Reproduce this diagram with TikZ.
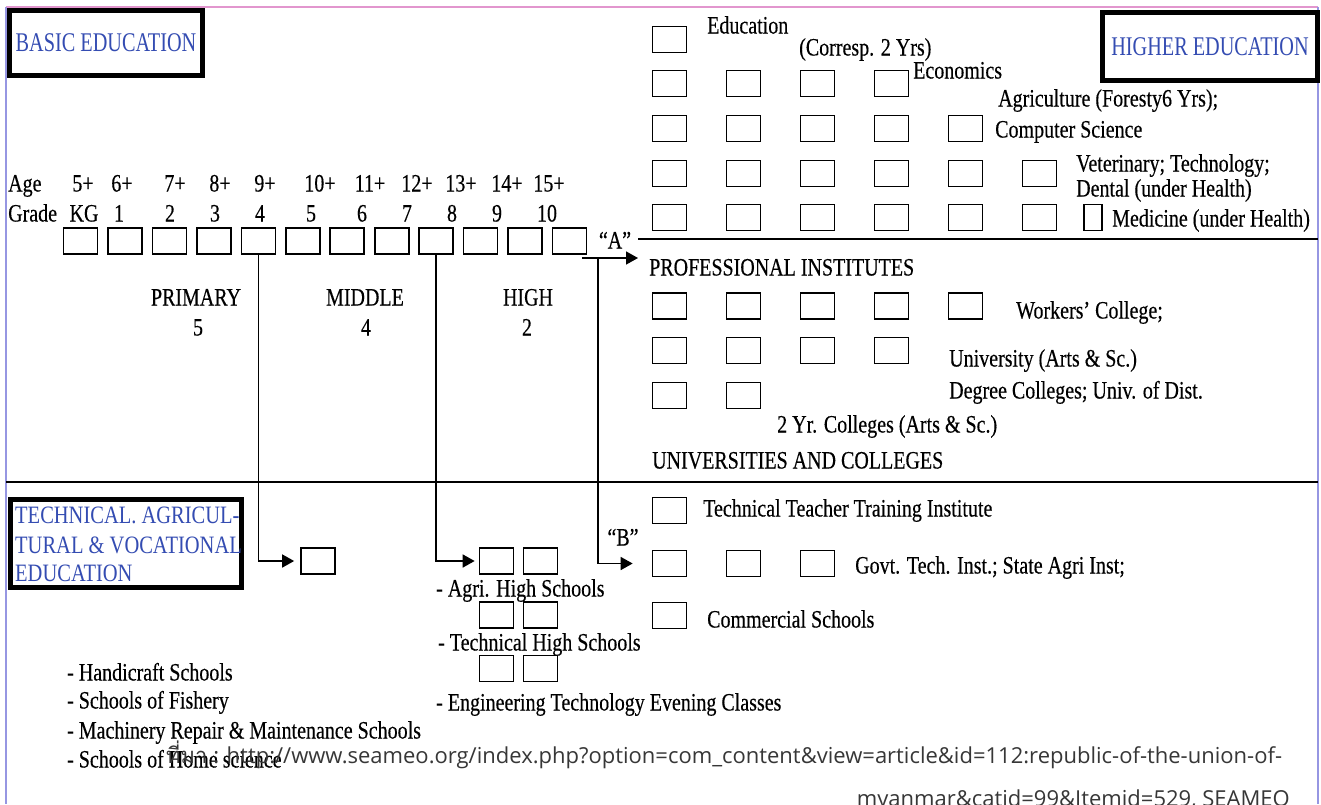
\documentclass[tikz,border=0pt]{standalone}
\usepackage{fontspec}
\setmainfont{Liberation Serif}
\newfontfamily\chartfont[FakeStretch=0.8, FakeBold=0.3]{Liberation Serif}
\newfontfamily\titlefont[FakeStretch=0.75]{Liberation Serif}
\newfontfamily\thaifont[Script=Thai]{Loma}
\newfontfamily\srcfont{Open Sans}
\usetikzlibrary{arrows.meta,positioning}
\definecolor{titleblue}{RGB}{52,76,178}
\definecolor{framepink}{RGB}{226,150,206}
\definecolor{frameblue}{RGB}{150,150,226}
\definecolor{srcgray}{RGB}{55,55,55}

\begin{document}
\begin{tikzpicture}[x=1pt, y=-1pt,
    lbl/.style={inner sep=0pt, anchor=west, text height=17pt, text depth=0pt, font=\chartfont\fontsize{25}{29}\selectfont},
    mid/.style={lbl, anchor=center},
    cell/.style={draw, line width=1.7pt, minimum width=34pt, minimum height=26pt, inner sep=0pt},
    slim/.style={cell, minimum width=18pt},
    titlebox/.style={draw, line width=5pt, inner sep=0pt, text=titleblue, font=\titlefont\fontsize{27}{29}\selectfont},
    techtxt/.style={lbl, text=titleblue, font=\titlefont\fontsize{25}{29}\selectfont},
    flow/.style={line width=1.6pt, -{Triangle[length=12pt, width=13pt]}},
    rule/.style={line width=1.8pt},
    src/.style={inner sep=0pt, text=srcgray, font=\srcfont\fontsize{22}{26}\selectfont}]

    \clip (0,0) rectangle (1321,804);
    \fill[white] (0,0) rectangle (1321,804);

    % frame
    \draw[framepink, line width=1.5pt] (6,7) -- (1318,7);
    \draw[frameblue, line width=1.5pt] (6,7) -- (6,804);
    \draw[frameblue, line width=1.5pt] (1318,7) -- (1318,804);

    % section titles
    \node (basic) [titlebox, minimum width=193pt, minimum height=65pt] at (106,43) {BASIC EDUCATION};
    \node (higher) [titlebox, minimum width=215pt, minimum height=68pt] at (1210,46.5) {HIGHER EDUCATION};
    \node (tech) [titlebox, minimum width=231pt, minimum height=88pt] at (126,543.5) {};
    \node (tech1) [techtxt] at (15,515) {\addfontfeature{FakeStretch=0.82}TECHNICAL. AGRICUL-};
    \node (tech2) [techtxt] at (15,545) {\addfontfeature{FakeStretch=0.82}TURAL \& VOCATIONAL};
    \node (tech3) [techtxt] at (15,573) {\addfontfeature{FakeStretch=0.82}EDUCATION};

    % basic education: ages, grades, boxes
    \node (age) [lbl] at (8,183) {Age};
    \node (grade) [lbl] at (8,213) {Grade};
    \foreach \a/\x [count=\k] in {5+/83, 6+/122, 7+/175, 8+/220, 9+/265, 10+/320, 11+/370, 12+/417, 13+/461, 14+/507, 15+/549}
        \node (age\k) [mid] at (\x,183) {\a};
    \foreach \g/\x [count=\k] in {KG/84, 1/119, 2/170, 3/215, 4/260, 5/311, 6/362, 7/407, 8/452, 9/497, 10/547}
        \node (gr\k) [mid] at (\x,213) {\g};
    \foreach \i in {1,...,12}
        \node (g\i) [cell] at ({36.1+44.45*\i},241) {};

    \node (primary) [mid] at (196,297) {PRIMARY};
    \node (primaryn) [mid] at (198,327) {5};
    \node (middle) [mid] at (365,297) {MIDDLE};
    \node (middlen) [mid] at (366,327) {4};
    \node (high) [mid] at (528,297) {HIGH};
    \node (highn) [mid] at (527,327) {2};

    % higher education boxes
    \foreach \r/\y/\n in {r1/39.5/1, r2/83.5/4, r3/128.5/5, r4/173.5/6, r5/217.5/6, p1/306/5, p2/350.5/4, p3/395.5/2, t1/510.5/1, t2/563.5/3, t3/615.5/1}
        \foreach \j in {1,...,\n}
            \node (\r c\j) [cell] at ({595.5+74*\j},\y) {};
    \node (r5s) [slim] at (1093,217.5) {};

    \node (edu) [lbl] at (707,25) {Education};
    \node (corresp) [lbl] at (799,47) {(Corresp. 2 Yrs)};
    \node (econ) [lbl] at (913,70) {Economics};
    \node (agri) [lbl] at (998,98) {Agriculture (Foresty6 Yrs);};
    \node (comp) [lbl] at (995,129) {Computer Science};
    \node (vet) [lbl] at (1076,163) {Veterinary; Technology;};
    \node (dental) [lbl] at (1076,188) {Dental (under Health)};
    \node (med) [lbl] at (1112,218) {Medicine (under Health)};

    \node (prof) [lbl] at (649,267) {PROFESSIONAL INSTITUTES};
    \node (workers) [lbl] at (1016,310) {Workers’ College;};
    \node (univ) [lbl] at (949,358) {University (Arts \& Sc.)};
    \node (degree) [lbl] at (949,390) {Degree Colleges; Univ. of Dist.};
    \node (twoyr) [lbl] at (777,424) {2 Yr. Colleges (Arts \& Sc.)};
    \node (unis) [lbl] at (652,460) {UNIVERSITIES AND COLLEGES};

    \node (ttti) [lbl] at (703,508) {Technical Teacher Training Institute};
    \node (govt) [lbl] at (855,565) {Govt. Tech. Inst.; State Agri Inst;};
    \node (comm) [lbl] at (707,619) {Commercial Schools};

    % technical / vocational boxes
    \node (tv) [cell] at (318,561) {};
    \node (ta1) [cell] at (496.5,561) {};
    \node (ta2) [cell] at (540.5,561) {};
    \node (tt1) [cell] at (496.5,615) {};
    \node (tt2) [cell] at (540.5,615) {};
    \node (te1) [cell] at (496.5,668.5) {};
    \node (te2) [cell] at (540.5,668.5) {};
    \node (agrihs) [lbl] at (436,588) {- Agri. High Schools};
    \node (techhs) [lbl] at (438,642) {- Technical High Schools};
    \node (engtech) [lbl] at (436,702) {- Engineering Technology Evening Classes};

    \node (handi) [lbl] at (67,672) {- Handicraft Schools};
    \node (fish) [lbl] at (67,700) {- Schools of Fishery};
    \node (mach) [lbl] at (67,730) {- Machinery Repair \& Maintenance Schools};
    \node (home) [lbl] at (67,759) {- Schools of Home science};

    % separators
    \draw[rule] (638,239) -- (1318,239);
    \draw[rule] (6,482) -- (1318,482);

    % connectors
    \coordinate (astart) at (582,258);
    \coordinate (atip) at (638,258);
    \coordinate (ajoin) at (598,258);
    \node (alabel) [mid] at (615,240) {“A”};
    \node (blabel) [mid] at (623,537) {“B”};
    \draw[flow] (astart) -- (atip);
    \draw[flow, shorten >=19pt] (ajoin) |- (t2c1.west);
    \draw[flow, shorten >=6pt] (g5.south) |- (tv.west);
    \draw[flow, shorten >=4pt] (g9.south) |- (ta1.west);

    % source
    \node (src1) [src, anchor=base west] at (166,763) {{\thaifont ที่มา} : http://www.seameo.org/index.php?option=com\_content\&view=article\&id=112:republic-of-the-union-of-};
    \node (src2) [src, anchor=base east] at (1290,806) {myanmar\&catid=99\&Itemid=529, SEAMEO};
\end{tikzpicture}
\end{document}
